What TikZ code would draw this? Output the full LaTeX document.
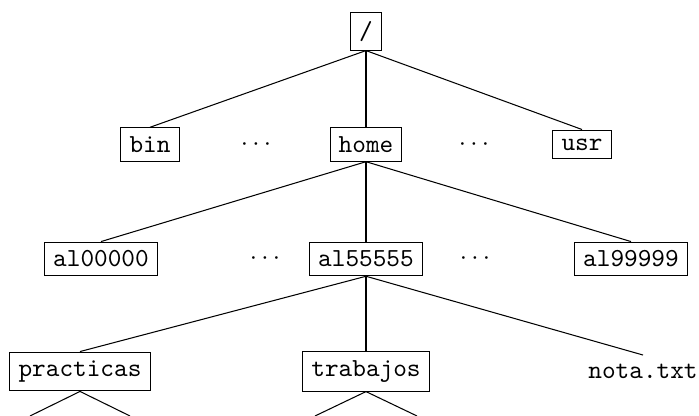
\documentclass[tikz,border=0pt]{standalone}
\begin{document}
\begin{tikzpicture}[x=0.3846pt,y=-0.3846pt,
  dirbox/.style={draw,font=\ttfamily},
  filenode/.style={font=\ttfamily},
  gap/.style={}]
\useasboundingbox (0,0) rectangle (699,416);
% level 0
\node[dirbox] (root) at (366,31.3) {/};
% level 1
\node[dirbox] (bin) at (150,144.5) {bin};
\node[gap] (d1) at (256,144.5) {$\cdots$};
\node[dirbox] (home) at (366,144.5) {home};
\node[gap] (d2) at (474,144.5) {$\cdots$};
\node[dirbox] (usr) at (582,144.5) {usr};
% level 2
\node[dirbox] (al0) at (101,259) {al00000};
\node[gap] (d3) at (265,259) {$\cdots$};
\node[dirbox] (al5) at (366,259) {al55555};
\node[gap] (d4) at (475,259) {$\cdots$};
\node[dirbox] (al9) at (631,259) {al99999};
% level 3
\node[dirbox] (prac) at (80,371.5) {practicas};
\node[dirbox] (trab) at (366,371.5) {trabajos};
\node[filenode] (nota) at (643,371.5) {nota.txt};
\coordinate (p1) at (30,416);
\coordinate (p2) at (130,416);
\coordinate (t1) at (315,416);
\coordinate (t2) at (417,416);
% edges
\draw (root.south) -- (bin.north);
\draw (root.south) -- (home.north);
\draw (root.south) -- (usr.north);
\draw (home.south) -- (al0.north);
\draw (home.south) -- (al5.north);
\draw (home.south) -- (al9.north);
\draw (al5.south) -- (prac.north);
\draw (al5.south) -- (trab.north);
\draw (al5.south) -- (nota.north);
\draw (prac.south) -- (p1);
\draw (prac.south) -- (p2);
\draw (trab.south) -- (t1);
\draw (trab.south) -- (t2);
\end{tikzpicture}
\end{document}
